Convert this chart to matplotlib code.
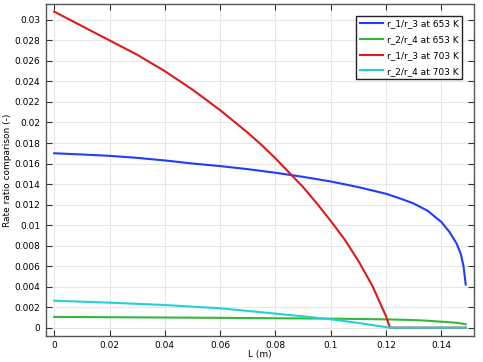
import matplotlib
matplotlib.use('Agg')
import matplotlib.pyplot as plt

# values
x_blue = [0, 0.01, 0.02, 0.03, 0.04, 0.05, 0.06, 0.07, 0.08, 0.09, 0.1, 0.11,
          0.12, 0.125, 0.13, 0.135, 0.14, 0.143, 0.1455, 0.147, 0.148, 0.1488]
y_blue = [0.0170, 0.01688, 0.01675, 0.01655, 0.01630, 0.0160, 0.01575, 0.01545,
          0.01510, 0.01470, 0.01425, 0.01370, 0.01305, 0.01260, 0.01210,
          0.01140, 0.01030, 0.00930, 0.00820, 0.0072, 0.0060, 0.0042]

x_green = [0, 0.02, 0.04, 0.06, 0.08, 0.1, 0.12, 0.125, 0.13, 0.135, 0.139,
           0.143, 0.146, 0.1488]
y_green = [0.00105, 0.00102, 0.00099, 0.00096, 0.00092, 0.00088, 0.00081,
           0.00078, 0.00074, 0.00068, 0.00060, 0.00053, 0.00046, 0.00033]

x_red = [0, 0.01, 0.02, 0.03, 0.04, 0.05, 0.06, 0.07, 0.075, 0.08, 0.085, 0.09,
         0.095, 0.1, 0.105, 0.11, 0.115, 0.12, 0.1214, 0.13, 0.14, 0.1488]
y_red = [0.0308, 0.0294, 0.0280, 0.0266, 0.0250, 0.0232, 0.0212, 0.0190,
         0.0178, 0.0165, 0.0151, 0.0137, 0.0121, 0.0104, 0.0086, 0.0065,
         0.0041, 0.0011, 0.0, 0.0, 0.0, 0.0]

x_cyan = [0, 0.02, 0.04, 0.06, 0.07, 0.08, 0.09, 0.1, 0.11, 0.1214, 0.13, 0.14,
          0.1488]
y_cyan = [0.00263, 0.00244, 0.00221, 0.00189, 0.00163, 0.00137, 0.00110,
          0.00082, 0.00046, 0.0, 0.0, 0.0, 0.0]

labels = ['r_1/r_3 at 653 K', 'r_2/r_4 at 653 K',
          'r_1/r_3 at 703 K', 'r_2/r_4 at 703 K']
x_ticks = [0, 0.02, 0.04, 0.06, 0.08, 0.1, 0.12, 0.14]
x_tick_labels = ['0', '0.02', '0.04', '0.06', '0.08', '0.1', '0.12', '0.14']
y_ticks = [0, 0.002, 0.004, 0.006, 0.008, 0.01, 0.012, 0.014, 0.016, 0.018,
           0.02, 0.022, 0.024, 0.026, 0.028, 0.03]
y_tick_labels = ['0', '0.002', '0.004', '0.006', '0.008', '0.01', '0.012',
                 '0.014', '0.016', '0.018', '0.02', '0.022', '0.024', '0.026',
                 '0.028', '0.03']

fs = 6.5
fig = plt.figure(figsize=(4.83, 3.62), dpi=100)
ax = fig.add_axes([0.0946, 0.0727, 0.8868, 0.9163])

ax.plot(x_blue, y_blue, color='#1f3cff', lw=1.5, label=labels[0])
ax.plot(x_green, y_green, color='#33b83a', lw=1.5, label=labels[1])
ax.plot(x_red, y_red, color='#dd1a1a', lw=1.5, label=labels[2])
ax.plot(x_cyan, y_cyan, color='#22d2d2', lw=1.5, label=labels[3])

ax.set_xlim(-0.0031, 0.1518)
ax.set_ylim(-0.00078, 0.03155)
ax.set_xticks(x_ticks)
ax.set_xticklabels(x_tick_labels)
ax.set_yticks(y_ticks)
ax.set_yticklabels(y_tick_labels)
ax.tick_params(direction='in', top=True, right=True, labelsize=fs,
               length=4, width=0.8, color='#333333', pad=4)
ax.grid(True, color='#e6e6e6', lw=0.8)
ax.set_axisbelow(True)
for s in ax.spines.values():
    s.set_color('#555555')
    s.set_linewidth(1.0)

ax.set_xlabel('L (m)', fontsize=fs, labelpad=0)
ax.set_ylabel('Rate ratio comparison (-)', fontsize=fs)
ax.yaxis.set_label_coords(-0.078, 0.5)

leg = ax.legend(loc='upper right', fontsize=fs, fancybox=False, framealpha=1,
                edgecolor='#222222', handlelength=2.6, labelspacing=0.75,
                borderaxespad=1.3, handletextpad=0.4)
leg.get_frame().set_linewidth(1.0)

fig.savefig('out.png', dpi=100)
